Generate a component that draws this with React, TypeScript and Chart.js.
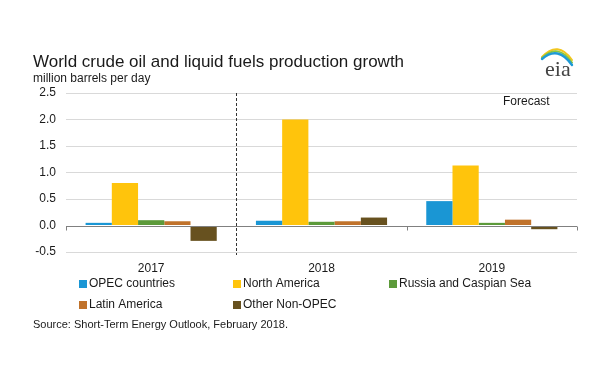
import React, { useEffect, useRef } from "react";
import { Chart, registerables } from "chart.js";

Chart.register(...registerables);

const categories = ["2017", "2018", "2019"];
const seriesNames = ["OPEC countries", "North America", "Russia and Caspian Sea", "Latin America", "Other Non-OPEC"];
const opec = [0.05, 0.09, 0.46];
const northAmerica = [0.8, 2.0, 1.13];
const russia = [0.1, 0.07, 0.05];
const latinAmerica = [0.08, 0.08, 0.11];
const otherNonOpec = [-0.29, 0.15, -0.07];
const seriesColors = ["#1a96d4", "#ffc40c", "#5c9a3a", "#c0722b", "#67511f"];
const yTicks = [-0.5, 0, 0.5, 1.0, 1.5, 2.0, 2.5];

const titleText = "World crude oil and liquid fuels production growth";
const subtitleText = "million barrels per day";
const sourceText = "Source: Short-Term Energy Outlook, February 2018.";
const forecastText = "Forecast";

const FONT = "'Liberation Sans', Arial, sans-serif";

const decorPlugin = {
  id: "decor",
  beforeDatasetsDraw(chart: any) {
    const ctx = chart.ctx;
    const area = chart.chartArea;
    const n = categories.length;
    const catW = (area.right - area.left) / n;
    ctx.save();
    const sepX = Math.round(area.left + catW) + 0.5;
    ctx.strokeStyle = "#333";
    ctx.lineWidth = 1;
    ctx.setLineDash([3, 2]);
    ctx.beginPath();
    ctx.moveTo(sepX, area.top);
    ctx.lineTo(sepX, area.bottom + 3);
    ctx.stroke();
    ctx.restore();
  },
  afterDatasetsDraw(chart: any) {
    const ctx = chart.ctx;
    const y = chart.scales.y;
    const area = chart.chartArea;
    const zeroY = Math.round(y.getPixelForValue(0)) + 0.5;
    const n = categories.length;
    const catW = (area.right - area.left) / n;
    ctx.save();
    ctx.strokeStyle = "#808080";
    ctx.lineWidth = 1;
    ctx.beginPath();
    ctx.moveTo(area.left, zeroY);
    ctx.lineTo(area.right, zeroY);
    for (let i = 0; i <= n; i++) {
      if (i === 1) continue;
      const bx = Math.round(area.left + catW * i) + 0.5;
      ctx.moveTo(bx, zeroY);
      ctx.lineTo(bx, zeroY + 4);
    }
    ctx.stroke();
    ctx.restore();
  },
  afterDraw(chart: any) {
    const ctx = chart.ctx;
    ctx.save();
    ctx.fillStyle = "#1a1a1a";
    ctx.textBaseline = "middle";
    ctx.textAlign = "left";
    ctx.font = `17px ${FONT}`;
    ctx.fillText(titleText, 33, 62);
    ctx.font = `12px ${FONT}`;
    ctx.fillText(subtitleText, 33, 79);
    ctx.fillText(forecastText, 503, 102);
    // legend
    const colsX = [79, 233, 389];
    const rowsY = [284, 305];
    chart.data.datasets.forEach((ds: any, i: number) => {
      const cx = colsX[i % 3];
      const cy = rowsY[Math.floor(i / 3)];
      ctx.fillStyle = ds.backgroundColor;
      ctx.fillRect(cx, cy - 4, 8, 8);
      ctx.fillStyle = "#1a1a1a";
      ctx.font = `12px ${FONT}`;
      ctx.fillText(ds.label, cx + 10, cy);
    });
    ctx.font = `11px ${FONT}`;
    ctx.fillText(sourceText, 33, 325);
    // eia logo
    ctx.lineCap = "round";
    const arcs = [
      { c: "#f2c61f", w: 2, k: 0 },
      { c: "#8cc63f", w: 2, k: 2.5 },
      { c: "#1e9ad6", w: 2.4, k: 5 },
    ];
    arcs.forEach((a) => {
      ctx.strokeStyle = a.c;
      ctx.lineWidth = a.w;
      ctx.beginPath();
      ctx.moveTo(542, 57 + a.k * 0.4);
      ctx.quadraticCurveTo(558, 40 + a.k, 572, 60 + a.k);
      ctx.stroke();
    });
    ctx.fillStyle = "#444";
    ctx.font = `22px 'Liberation Serif', 'DejaVu Serif', serif`;
    ctx.textBaseline = "alphabetic";
    ctx.fillText("eia", 545, 76);
    ctx.restore();
  },
};

export default function App() {
  const ref = useRef<HTMLCanvasElement>(null);
  useEffect(() => {
    document.body.style.margin = "0";
    if (!ref.current) return;
    const values = [opec, northAmerica, russia, latinAmerica, otherNonOpec];
    const chart = new Chart(ref.current, {
      type: "bar",
      data: {
        labels: categories,
        datasets: seriesNames.map((name, i) => ({
          label: name,
          data: values[i],
          backgroundColor: seriesColors[i],
          borderWidth: 0,
          categoryPercentage: 0.77,
          barPercentage: 1.0,
        })),
      },
      options: {
        animation: false,
        responsive: false,
        maintainAspectRatio: false,
        layout: { padding: { left: 0, right: 23, top: 93, bottom: 105 } },
        plugins: {
          legend: { display: false },
          title: { display: false },
          tooltip: { enabled: false },
        },
        scales: {
          x: {
            grid: { display: false, drawTicks: false },
            border: { display: false },
            ticks: {
              padding: 9,
              color: "#1a1a1a",
              font: { family: FONT, size: 12 },
            },
            afterFit: (s: any) => {
              s.height = 30;
            },
          },
          y: {
            min: -0.5,
            max: 2.5,
            afterBuildTicks: (s: any) => {
              s.ticks = yTicks.map((v) => ({ value: v }));
            },
            grid: {
              color: (c: any) => (c.tick && c.tick.value === 0 ? "rgba(0,0,0,0)" : "#d9d9d9"),
              drawTicks: false,
              lineWidth: 1,
            },
            border: { display: false },
            ticks: {
              padding: 10,
              color: "#1a1a1a",
              font: { family: FONT, size: 12 },
              callback: (v: any) => Number(v).toFixed(1),
            },
            afterFit: (s: any) => {
              s.width = 66;
            },
          },
        },
      },
      plugins: [decorPlugin],
    });
    return () => chart.destroy();
  }, []);
  return (
    <div style={{ width: 600, height: 387 }}>
      <canvas ref={ref} width={600} height={387} style={{ display: "block", width: 600, height: 387 }} />
    </div>
  );
}
